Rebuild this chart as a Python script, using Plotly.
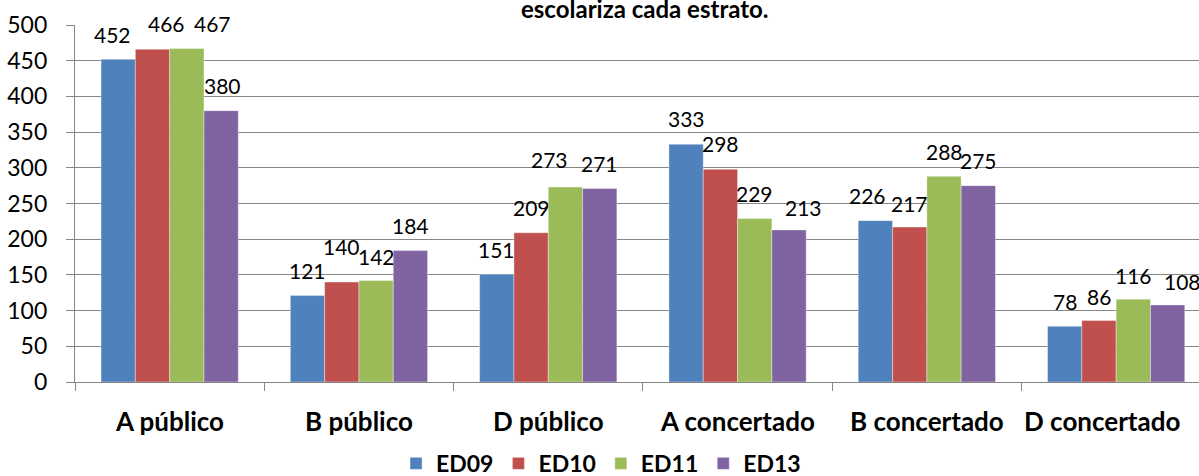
import plotly.graph_objects as go

categories = ["A público", "B público", "D público", "A concertado", "B concertado", "D concertado"]
series_names = ["ED09", "ED10", "ED11", "ED13"]
ed09 = [452, 121, 151, 333, 226, 78]
ed10 = [466, 140, 209, 298, 217, 86]
ed11 = [467, 142, 273, 229, 288, 116]
ed13 = [380, 184, 271, 213, 275, 108]
title_text = "escolariza cada estrato."

series_values = [ed09, ed10, ed11, ed13]
colors = ["#4F81BD", "#C0504D", "#9BBB59", "#8064A2"]

# label nudges (px) to mimic the manually placed data labels
label_dx = [
    [-6, 0, 0, 0, -8, 0],
    [14, 0, 0, 0, 0, 0],
    [26, 0, -16, 0, 0, 0],
    [1, 0, 0, 14, 0, 15],
]
label_dy = [
    [25, 25, 25, 26, 25, 25],
    [26, 36, 25, 26, 24, 24],
    [25, 24, 28, 25, 25, 24],
    [25, 25, 25, 22, 25, 23],
]
cat_label_dx = [0, 0, 0, 0, 0, -14]

FONT = "Lato"
bargap = 0.275
n = len(series_names)
w = (1 - bargap) / n

fig = go.Figure()
for i, (name, vals, col) in enumerate(zip(series_names, series_values, colors)):
    fig.add_trace(go.Bar(
        x=categories, y=vals, name=name,
        marker=dict(color=col, line=dict(color="rgba(255,255,255,0.6)", width=0.6)),
    ))

annotations = []
for i, vals in enumerate(series_values):
    for j, v in enumerate(vals):
        annotations.append(dict(
            x=j + (i - (n - 1) / 2) * w, y=v, xref="x", yref="y",
            text=str(v), showarrow=False,
            xshift=label_dx[i][j], yshift=label_dy[i][j],
            xanchor="center", yanchor="middle",
            font=dict(family=FONT, size=21, color="#000000"),
        ))

for j, c in enumerate(categories):
    annotations.append(dict(
        x=j, y=0, xref="x", yref="y", text=c, showarrow=False,
        xshift=cat_label_dx[j], yshift=-39, xanchor="center", yanchor="middle",
        font=dict(family=FONT, size=26, color="#000000", weight="bold"),
    ))

annotations.append(dict(
    x=0.507, y=1.045, xref="paper", yref="paper",
    text=title_text, showarrow=False, xanchor="center", yanchor="middle",
    font=dict(family=FONT, size=24, color="#000000", weight="bold"),
))

fig.update_layout(
    width=1199, height=476,
    margin=dict(l=75, r=0, t=25, b=94, autoexpand=False),
    barmode="group", bargap=bargap, bargroupgap=0,
    plot_bgcolor="white", paper_bgcolor="white",
    showlegend=True,
    legend=dict(orientation="h", x=0.468, xanchor="center", y=-0.228, yanchor="middle",
                font=dict(family=FONT, size=23, color="#000000", weight="bold"),
                itemwidth=30, traceorder="normal"),
    annotations=annotations,
    font=dict(family=FONT, color="#000000"),
)
fig.update_xaxes(
    type="category", range=[-0.5, -0.5 + 1124 / 189.3],
    showline=True, linecolor="#868686", linewidth=1.3,
    ticks="outside", tickson="boundaries", ticklen=8, tickcolor="#868686", tickwidth=1.3,
    showgrid=False, showticklabels=False,
)
fig.update_yaxes(
    range=[0, 500], dtick=50,
    showline=True, linecolor="#868686", linewidth=1.3,
    ticks="outside", ticklen=8, tickcolor="#868686", tickwidth=1.3,
    showgrid=True, gridcolor="#868686", gridwidth=1.3,
    zeroline=False, ticklabelstandoff=14,
    tickfont=dict(family=FONT, size=23, color="#000000"),
)

fig.write_html(
    "out.html",
    config={"displayModeBar": False},
    post_script=(
        "document.body.style.margin='0';document.body.style.overflow='hidden';"
        "document.documentElement.style.overflow='hidden';"
    ),
)
